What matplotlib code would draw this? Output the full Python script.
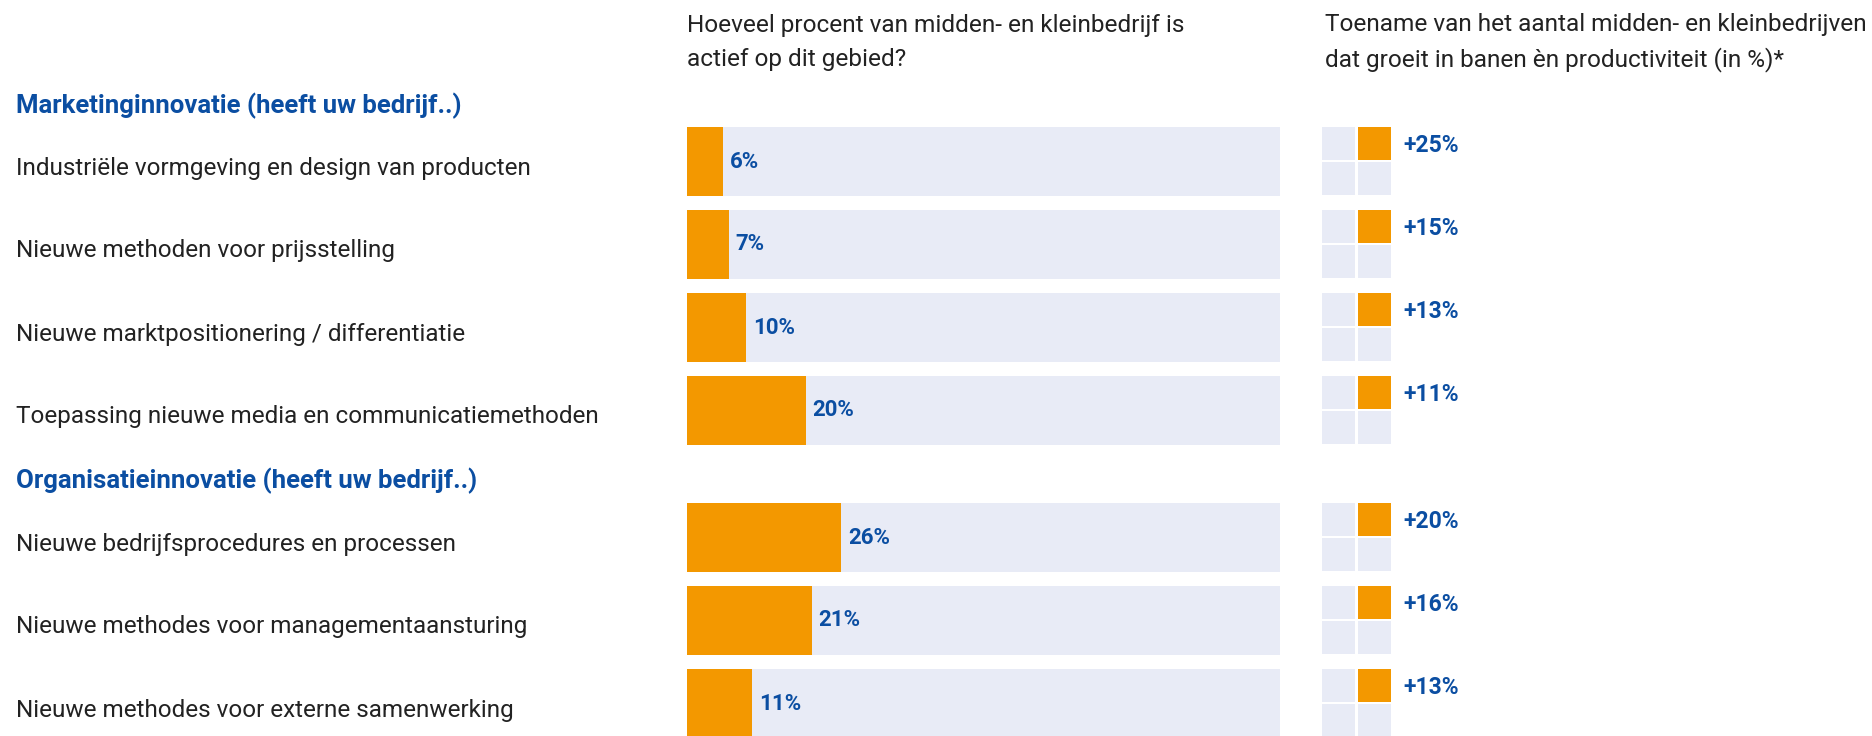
import matplotlib
matplotlib.use("Agg")
import matplotlib.pyplot as plt

# ---------------- data ----------------
sections = ["Marketinginnovatie (heeft uw bedrijf..)",
            "Organisatieinnovatie (heeft uw bedrijf..)"]
labels_marketing = ["Industriële vormgeving en design van producten",
                    "Nieuwe methoden voor prijsstelling",
                    "Nieuwe marktpositionering / differentiatie",
                    "Toepassing nieuwe media en communicatiemethoden"]
labels_organisatie = ["Nieuwe bedrijfsprocedures en processen",
                      "Nieuwe methodes voor managementaansturing",
                      "Nieuwe methodes voor externe samenwerking"]
actief_marketing = [6, 7, 10, 20]
actief_organisatie = [26, 21, 11]
groei_marketing = [25, 15, 13, 11]
groei_organisatie = [20, 16, 13]
header_left = "Hoeveel procent van midden- en kleinbedrijf is\nactief op dit gebied?"
header_right = "Toename van het aantal midden- en kleinbedrijven\ndat groeit in banen èn productiviteit (in %)*"

# ---------------- style ----------------
ORANGE = "#F39800"
TRACK = "#E8EBF6"
BLUE = "#0B4EA2"
DARK = "#222222"

plt.rcParams["font.family"] = ["Roboto", "DejaVu Sans"]

W, H = 1872, 736
fig = plt.figure(figsize=(W / 100, H / 100), dpi=100)

def fx(px):
    return px / W

def fy(py):
    return 1 - py / H

# layout (pixels)
ROW_STEP = 83
BAR_H = 69
first_top = 127
sec2_top = 503
tops = [first_top + i * ROW_STEP for i in range(len(labels_marketing))] + \
       [sec2_top + i * ROW_STEP for i in range(len(labels_organisatie))]
centers = [t + BAR_H / 2 for t in tops]
labels = labels_marketing + labels_organisatie
actief = actief_marketing + actief_organisatie
groei = groei_marketing + groei_organisatie

# bar axes
BAR_X0, BAR_X1 = 687, 1280
ax = fig.add_axes([fx(BAR_X0), 0, (BAR_X1 - BAR_X0) / W, 1])
ax.barh(centers, [100] * len(centers), height=BAR_H, color=TRACK, linewidth=0)
ax.barh(centers, actief, height=BAR_H, color=ORANGE, linewidth=0)
ax.set_xlim(0, 100)
ax.set_ylim(H, 0)
ax.axis("off")
for c, v in zip(centers, actief):
    ax.text(v + 1.2, c, f"{v}%", color=BLUE, fontsize=16, fontweight="bold",
            va="center", ha="left")

# square icon axes
SQ_X0, SQ = 1322, 33
GAP = 3
ax2 = fig.add_axes([fx(SQ_X0), 0, (2 * SQ + GAP) / W, 1])
for t, g in zip(tops, groei):
    for r in range(2):
        for col in range(2):
            color = ORANGE if (r == 0 and col == 1) else TRACK
            ax2.barh(t + r * (SQ + 2) + SQ / 2, SQ, left=col * (SQ + GAP),
                     height=SQ, color=color, linewidth=0)
    fig.text(fx(1403), fy(t + SQ / 2 + 2), f"+{g}%", color=BLUE, fontsize=16.5,
             fontweight="bold", va="center", ha="left")
ax2.set_xlim(0, 2 * SQ + GAP)
ax2.set_ylim(H, 0)
ax2.axis("off")

# row labels
for c, lab in zip(centers, labels):
    fig.text(fx(16), fy(c + 6.5), lab, color=DARK, fontsize=17.5, va="center", ha="left")

# section headings
fig.text(fx(16), fy(106), sections[0], color=BLUE, fontsize=18.5, fontweight="bold",
         va="center", ha="left")
fig.text(fx(16), fy(481), sections[1], color=BLUE, fontsize=18.5, fontweight="bold",
         va="center", ha="left")

# column headers
fig.text(fx(687), fy(42.5), header_left, color=DARK, fontsize=17.6, va="center",
         ha="left", linespacing=1.56)
fig.text(fx(1325), fy(42.5), header_right, color=DARK, fontsize=17.6, va="center",
         ha="left", linespacing=1.56)

fig.savefig("out.png", dpi=100)
